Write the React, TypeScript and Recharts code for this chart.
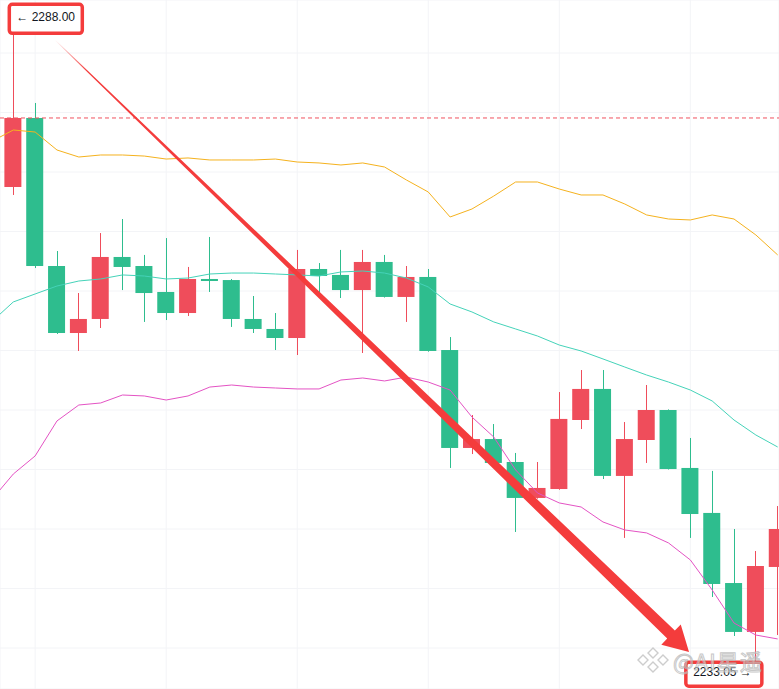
import React from "react";
import {
  ComposedChart,
  Bar,
  Line,
  XAxis,
  YAxis,
  CartesianGrid,
  ReferenceLine,
  ReferenceDot,
} from "recharts";

// candles, index 0..35
const opens = [
  2273.74, 2279.54, 2267.1, 2261.47, 2262.65, 2267.86, 2267.1, 2264.92, 2263.15,
  2266.01, 2265.92, 2262.65, 2261.81, 2261.05, 2266.85, 2266.35, 2265.08, 2267.44,
  2264.5, 2266.18, 2260.04, 2251.81, 2252.56, 2250.63, 2247.61, 2248.36, 2254.16,
  2256.77, 2249.46, 2252.48, 2255.0, 2250.13, 2246.35, 2240.46, 2236.35, 2241.81,
];
const highs = [
  2288.0, 2280.8, 2268.36, 2264.83, 2269.87, 2271.05, 2268.03, 2269.45, 2267.02,
  2269.54, 2266.01, 2264.58, 2263.15, 2268.45, 2267.35, 2268.45, 2268.45, 2268.03,
  2267.1, 2266.85, 2261.13, 2254.58, 2253.82, 2251.39, 2250.63, 2256.51, 2258.36,
  2258.36, 2253.99, 2257.1, 2255.05, 2252.65, 2249.88, 2245.0, 2243.15, 2246.93,
];
const lows = [
  2273.07, 2266.93, 2261.39, 2259.96, 2261.89, 2265.08, 2262.4, 2262.56, 2262.9,
  2264.92, 2261.98, 2261.47, 2260.04, 2259.62, 2264.83, 2264.41, 2259.79, 2264.45,
  2262.4, 2259.9, 2250.13, 2251.3, 2250.5, 2244.75, 2247.55, 2248.3, 2253.4,
  2249.2, 2244.25, 2250.55, 2250.0, 2244.25, 2239.29, 2236.01, 2233.05, 2236.09,
];
const closes = [
  2279.54, 2267.1, 2261.47, 2262.65, 2267.86, 2267.02, 2264.83, 2263.15, 2266.01,
  2265.84, 2262.65, 2261.81, 2261.05, 2266.85, 2266.26, 2265.08, 2267.44, 2264.5,
  2266.18, 2259.96, 2251.81, 2252.56, 2250.55, 2247.61, 2248.45, 2254.25, 2256.77,
  2249.46, 2252.56, 2255.0, 2250.04, 2246.26, 2240.38, 2236.35, 2241.89, 2245.0,
];

// bands, index -1..35 (first point is the bar just off the left edge)
const upperBand = [
  2277.56, 2278.53, 2278.36, 2276.85, 2276.26, 2276.43, 2276.43, 2276.34, 2276.09,
  2276.18, 2276.01, 2276.01, 2276.01, 2276.09, 2275.84, 2275.76, 2275.59, 2275.76,
  2275.42, 2274.33, 2273.32, 2271.22, 2271.89, 2272.98, 2274.16, 2274.16, 2273.57,
  2273.07, 2273.07, 2272.31, 2271.39, 2271.05, 2270.97, 2271.39, 2271.05, 2269.71,
  2268.03,
];
const middleBand = [
  2262.4, 2264.08, 2264.75, 2265.42, 2265.84, 2266.01, 2266.35, 2266.26, 2266.01,
  2266.09, 2266.43, 2266.51, 2266.51, 2266.43, 2266.35, 2266.26, 2266.6, 2266.68,
  2266.51, 2266.09, 2265.34, 2263.91, 2263.24, 2262.4, 2261.81, 2261.22, 2260.46,
  2259.96, 2259.29, 2258.61, 2257.94, 2257.35, 2256.68, 2255.76, 2254.16, 2252.9,
  2251.89,
];
const lowerBand = [
  2247.44, 2249.62, 2251.14, 2254.08, 2255.42, 2255.59, 2256.26, 2256.18, 2255.84,
  2256.18, 2256.93, 2257.1, 2256.93, 2256.85, 2256.77, 2256.77, 2257.52, 2257.69,
  2257.44, 2257.77, 2257.35, 2256.68, 2254.41, 2252.73, 2249.96, 2248.03, 2247.19,
  2246.85, 2245.59, 2244.92, 2244.67, 2243.83, 2242.4, 2239.88, 2237.1, 2236.09,
  2235.76,
];

const gridPrices = [2235, 2240, 2245, 2250, 2255, 2260, 2265, 2270, 2275, 2280, 2285];
const gridIndexes = [1, 7, 13, 19, 25, 31];

const highLabel = "2288.00";
const lowLabel = "2233.05";
const markedPrice = 2279.54;
const arrowFrom = { i: 1.91, price: 2286.09 };
const arrowTo = { i: 30.94, price: 2234.67 };

const UP = "#ef4d5b";
const DOWN = "#2ebd8e";
const MARK = "#f43c3c";

const data = upperBand.map((u, k) => {
  const c = k - 1;
  const has = c >= 0;
  return {
    i: c,
    upper: u,
    mid: middleBand[k],
    lower: lowerBand[k],
    open: has ? opens[c] : undefined,
    high: has ? highs[c] : undefined,
    low: has ? lows[c] : undefined,
    close: has ? closes[c] : undefined,
    range: has ? [lows[c], highs[c]] : undefined,
  };
});

const Candle = (props: any) => {
  const { x, y, width, height, payload } = props;
  if (!payload || payload.range == null) return null;
  const { open, close, high, low } = payload;
  const top = Math.min(y, y + height);
  const h = Math.abs(height);
  const ratio = h / (high - low || 1);
  const py = (v: number) => top + (high - v) * ratio;
  const color = close >= open ? UP : DOWN;
  const cx = Math.round(x + width / 2) + 0.5;
  const bodyTop = py(Math.max(open, close));
  const bodyH = Math.max(1.5, Math.abs(py(open) - py(close)));
  return (
    <g>
      <line x1={cx} x2={cx} y1={top} y2={top + h} stroke={color} strokeWidth={1} />
      <rect x={x} y={bodyTop} width={width} height={bodyH} fill={color} />
    </g>
  );
};

const Arrow = (props: any) => {
  const { x1, y1, x2, y2 } = props;
  const dx = x2 - x1;
  const dy = y2 - y1;
  const len = Math.sqrt(dx * dx + dy * dy);
  const ux = dx / len;
  const uy = dy / len;
  const nx = -uy;
  const ny = ux;
  const headLen = 25;
  const bx = x2 - ux * headLen;
  const by = y2 - uy * headLen;
  const p = (px: number, py: number, w: number) => `${px + nx * w},${py + ny * w}`;
  const pts = [
    p(x1, y1, 0.4),
    p(bx, by, 5.5),
    p(bx, by, 14),
    `${x2},${y2}`,
    p(bx, by, -14),
    p(bx, by, -5.5),
    p(x1, y1, -0.4),
  ].join(" ");
  return (
    <g>
      <defs>
        <linearGradient id="arrowFade" gradientUnits="userSpaceOnUse" x1={x1} y1={y1} x2={x2} y2={y2}>
          <stop offset="0" stopColor={MARK} stopOpacity={0} />
          <stop offset="0.05" stopColor={MARK} stopOpacity={1} />
          <stop offset="1" stopColor={MARK} stopOpacity={1} />
        </linearGradient>
      </defs>
      <polygon points={pts} fill="url(#arrowFade)" />
    </g>
  );
};

const HighTag = (props: any) => {
  const { cx, cy } = props;
  return (
    <g>
      <rect x={cx - 4} y={cy - 13} width={73} height={29} rx={3} fill="#fff" stroke={MARK} strokeWidth={3.5} />
      <text x={cx + 3} y={cy + 4} fontSize={12} fontFamily="'Liberation Sans', Arial, sans-serif" fill="#131722">
        {`← ${highLabel}`}
      </text>
    </g>
  );
};

const LowTag = (props: any) => {
  const { cx, cy } = props;
  return (
    <g>
      <rect x={cx - 70} y={cy - 9} width={76} height={24} rx={3} fill="#fff" stroke={MARK} strokeWidth={3.5} />
      <text x={cx - 4} y={cy + 5} textAnchor="end" fontSize={12} fontFamily="'Liberation Sans', Arial, sans-serif" fill="#131722">
        {`${lowLabel} →`}
      </text>
    </g>
  );
};

const Watermark = () => (
  <div
    style={{
      position: "absolute",
      left: 636,
      top: 646,
      display: "flex",
      alignItems: "center",
      gap: 3,
      pointerEvents: "none",
      opacity: 0.75,
    }}
  >
    <svg width={34} height={28} viewBox="0 0 34 28">
      <g fill="none" stroke="#bdbdbd" strokeWidth={1.4}>
        <path d="M17 2 L22 7 L17 12 L12 7 Z" />
        <path d="M7 9 L12 14 L7 19 L2 14 Z" />
        <path d="M27 9 L32 14 L27 19 L22 14 Z" />
        <path d="M17 16 L22 21 L17 26 L12 21 Z" />
      </g>
    </svg>
    <span
      style={{
        fontFamily: "'Noto Sans CJK SC', 'Noto Sans', sans-serif",
        fontSize: 22,
        color: "rgba(255,255,255,0.7)",
        WebkitTextStroke: "1px #b5b5b5",
        letterSpacing: 1,
        lineHeight: "26px",
      }}
    >
      @AI星遥
    </span>
  </div>
);

export default function App() {
  return (
    <div style={{ position: "relative", width: 779, height: 689, background: "#fff", overflow: "hidden" }}>
      <style>{`body{margin:0;}`}</style>
      <ComposedChart width={779} height={689} data={data} margin={{ top: 0, right: 0, bottom: 0, left: 0 }}>
        <XAxis dataKey="i" type="number" domain={[-0.609, 35.06]} ticks={gridIndexes} hide allowDataOverflow />
        <YAxis type="number" domain={[2231.555, 2289.454]} ticks={gridPrices} hide allowDataOverflow />
        <CartesianGrid stroke="#f3f4f7" strokeWidth={1} />
        <ReferenceLine y={markedPrice} stroke="#f0515f" strokeDasharray="4 3" strokeWidth={1} />
        <Bar dataKey="range" barSize={17} shape={<Candle />} isAnimationActive={false} />
        <Line type="linear" dataKey="upper" stroke="#f5b21e" strokeWidth={1} dot={false} isAnimationActive={false} />
        <Line type="linear" dataKey="mid" stroke="#45d3b9" strokeWidth={1} dot={false} isAnimationActive={false} />
        <Line type="linear" dataKey="lower" stroke="#e453c4" strokeWidth={1} dot={false} isAnimationActive={false} />
        <ReferenceLine
          segment={[
            { x: arrowFrom.i, y: arrowFrom.price },
            { x: arrowTo.i, y: arrowTo.price },
          ]}
          ifOverflow="visible"
          shape={<Arrow />}
        />
        <ReferenceDot x={0} y={highs[0]} ifOverflow="visible" shape={<HighTag />} />
        <ReferenceDot x={34} y={lows[34]} ifOverflow="visible" shape={<LowTag />} />
      </ComposedChart>
      <Watermark />
    </div>
  );
}
